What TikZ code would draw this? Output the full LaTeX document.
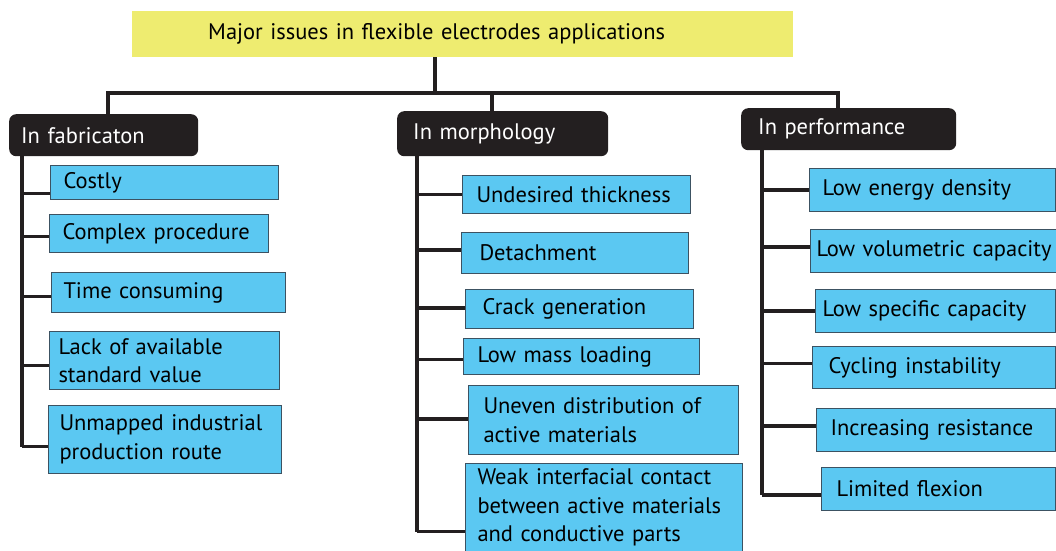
\documentclass[tikz,border=0pt]{standalone}
\usepackage{fontspec}
\setmainfont{PT Sans}
\usetikzlibrary{positioning}
\definecolor{titleyellow}{RGB}{238,236,112}
\definecolor{issueblue}{RGB}{91,200,242}
\definecolor{issueedge}{RGB}{60,82,98}
\definecolor{headdark}{RGB}{35,31,32}

\begin{document}
\begin{tikzpicture}[x=1pt,y=-1pt,
    every node/.style={font=\fontsize{22.5}{28.5}\selectfont},
    head/.style={fill=headdark,text=white,rounded corners=7pt,anchor=north west,align=left,inner ysep=0pt},
    issue/.style={draw=issueedge,line width=1pt,fill=issueblue,anchor=north west,align=left,inner ysep=0pt},
    link/.style={draw=headdark,line width=3.2pt}]
  \useasboundingbox (0,0) rectangle (1056,550);
  % title
  \node[fill=titleyellow,anchor=north west,align=left,inner xsep=76pt,inner ysep=0pt,
        minimum height=46pt,text width=509pt] (title) at (132,11) {Major issues in flexible electrodes applications};
  % headings
  \node[head,inner xsep=12pt,minimum height=42pt,text width=165pt] (fab) at (9,114) {In fabricaton};
  \node[head,inner xsep=16pt,minimum height=45pt,text width=179pt] (morph) at (397,111) {In morphology};
  \node[head,inner xsep=17pt,minimum height=42pt,text width=181pt] (perf) at (741,108) {In performance};
  % fabrication
  \node[issue,inner xsep=13pt,minimum height=34pt,text width=202pt] (cost) at (50,165) {Costly};
  \node[issue,inner xsep=13pt,minimum height=38pt,text width=193pt] (complex) at (49,214) {Complex procedure};
  \node[issue,inner xsep=12pt,minimum height=40pt,text width=210pt] (time) at (51,272) {Time consuming};
  \node[issue,inner xsep=9pt,minimum height=58pt,text width=212pt] (lack) at (49,331) {Lack of available\\standard value};
  \node[issue,inner xsep=11pt,minimum height=68pt,text width=211pt] (unmap) at (48,405) {Unmapped industrial\\production route};
  % morphology
  \node[issue,inner xsep=14pt,minimum height=38pt,text width=200pt] (thick) at (462,175) {Undesired thickness};
  \node[issue,inner xsep=18pt,minimum height=41pt,text width=191pt] (detach) at (461,232) {Detachment};
  \node[issue,inner xsep=17pt,minimum height=39pt,text width=194pt] (crack) at (465,289) {Crack generation};
  \node[issue,inner xsep=14pt,minimum height=36pt,text width=208pt] (mass) at (463,338) {Low mass loading};
  \node[issue,inner xsep=15pt,minimum height=69pt,text width=240pt] (uneven) at (468,385) {Uneven distribution of\\active materials};
  \node[issue,inner xsep=12pt,minimum height=88pt,text width=253pt] (weak) at (465,463) {Weak interfacial contact\\between active materials\\and conductive parts};
  % performance
  \node[issue,inner xsep=13pt,minimum height=43pt,text width=220pt] (energy) at (809,168) {Low energy density};
  \node[issue,inner xsep=6pt,minimum height=43pt,text width=236pt] (volume) at (810,229) {Low volumetric capacity};
  \node[issue,inner xsep=7pt,minimum height=43pt,text width=226pt] (specific) at (815,289) {Low specific capacity};
  \node[issue,inner xsep=16pt,minimum height=42pt,text width=211pt] (cycling) at (812,346) {Cycling instability};
  \node[issue,inner xsep=14pt,minimum height=43pt,text width=211pt] (resist) at (816,408) {Increasing resistance};
  \node[issue,inner xsep=15pt,minimum height=43pt,text width=204pt] (flexion) at (821,467) {Limited flexion};
  % tree lines
  \coordinate (hub) at (435,93);
  \coordinate (fabtop) at (108,93);
  \coordinate (morphtop) at (492,93);
  \coordinate (perftop) at (838,93);
  \coordinate (fabtrunk) at (22,0);
  \coordinate (morphtrunk) at (417,0);
  \coordinate (perftrunk) at (762,0);
  \draw[link] (title.south -| hub) -- (hub);
  \draw[link] (fab.north -| fabtop) -- (fabtop) -- (perftop) -- (perf.north -| perftop);
  \draw[link] (morphtop) -- (morph.north -| morphtop);
  \draw[link] (fab.south -| fabtrunk) -- ([yshift=-7pt]unmap.west -| fabtrunk);
  \draw[link] (morph.south -| morphtrunk) -- ([yshift=-24pt]weak.west -| morphtrunk);
  \draw[link] (perf.south -| perftrunk) -- ([yshift=-6pt]flexion.west -| perftrunk);
  \foreach \n/\d in {cost/-11,complex/-3,time/-4,lack/-5,unmap/-7}
    \draw[link] ([yshift=\d pt]\n.west -| fabtrunk) -- ([yshift=\d pt]\n.west);
  \foreach \n/\d in {thick/0,detach/3,crack/1,mass/-3,uneven/1,weak/-24}
    \draw[link] ([yshift=\d pt]\n.west -| morphtrunk) -- ([yshift=\d pt]\n.west);
  \foreach \n/\d in {energy/0,volume/4,specific/0,cycling/4,resist/4,flexion/-6}
    \draw[link] ([yshift=\d pt]\n.west -| perftrunk) -- ([yshift=\d pt]\n.west);
\end{tikzpicture}
\end{document}
